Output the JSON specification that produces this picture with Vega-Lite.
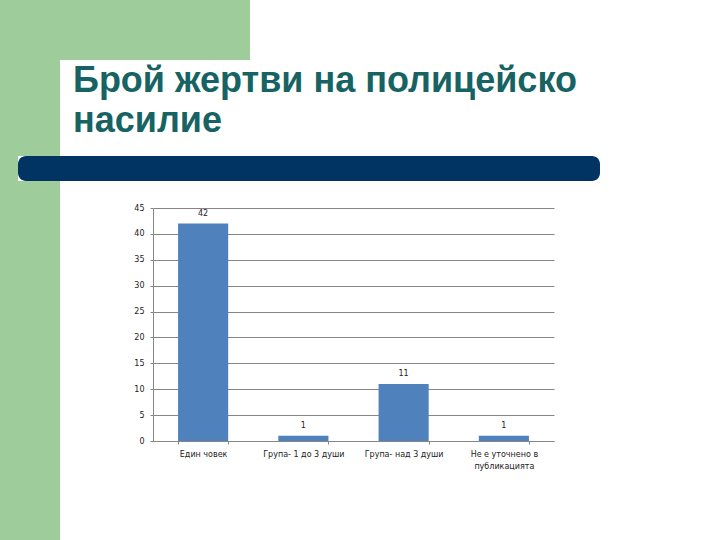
{
  "$schema": "https://vega.github.io/schema/vega-lite/v6.json",
  "background": "white",
  "padding": 0,
  "spacing": 0,
  "config": {
    "view": {"stroke": null},
    "concat": {"spacing": 0},
    "axis": {
      "labelFont": "DejaVu Sans",
      "labelFontSize": 8,
      "labelColor": "#222222",
      "domainColor": "#868686",
      "tickColor": "#868686",
      "gridColor": "#868686",
      "gridOpacity": 1,
      "tickSize": 3,
      "labelPadding": 6
    },
    "text": {"font": "DejaVu Sans"}
  },
  "vconcat": [
    {
      "width": 250, "height": 60,
      "data": {"values": []},
      "mark": "rect",
      "encoding": {},
      "view": {"fill": "#9fcc9b", "stroke": null}
    },
    {
      "spacing": 0,
      "hconcat": [
        {
          "width": 60, "height": 96,
          "data": {"values": []},
          "mark": "rect",
          "encoding": {},
          "view": {"fill": "#9fcc9b", "stroke": null}
        },
        {
          "width": 600, "height": 1,
          "data": {"values": []},
          "mark": "rect",
          "encoding": {},
          "view": {"fill": "white", "stroke": null},
          "title": {
            "text": ["Брой жертви на полицейско", "насилие"],
            "orient": "bottom",
            "anchor": "start",
            "frame": "group",
            "font": "Liberation Sans",
            "fontSize": 36,
            "fontWeight": "bold",
            "color": "#176363",
            "lineHeight": 40,
            "baseline": "top",
            "offset": 3,
            "dx": 13
          }
        }
      ]
    },
    {
      "spacing": 0,
      "hconcat": [
        {
          "width": 18, "height": 25,
          "data": {"values": []},
          "mark": "rect",
          "encoding": {},
          "view": {"fill": "#9fcc9b", "stroke": null}
        },
        {
          "width": 582, "height": 25,
          "data": {"values": []},
          "mark": "rect",
          "encoding": {},
          "view": {"fill": "#013463", "stroke": null, "cornerRadius": 8}
        }
      ]
    },
    {
      "spacing": 73,
      "hconcat": [
        {
          "width": 60, "height": 359,
          "data": {"values": []},
          "mark": "rect",
          "encoding": {},
          "view": {"fill": "#9fcc9b", "stroke": null}
        },
        {
          "spacing": 0,
          "vconcat": [
            {
              "width": 1, "height": 23,
              "data": {"values": []},
              "mark": "rect",
              "encoding": {},
              "view": {"fill": "white", "stroke": null}
            },
            {
              "width": 401,
              "height": 233,
              "data": {
                "values": [
                  {"category": "Един човек", "count": 42},
                  {"category": "Група- 1 до 3 души", "count": 1},
                  {"category": "Група- над 3 души", "count": 11},
                  {"category": "Не е уточнено в публикацията", "count": 1}
                ]
              },
              "encoding": {
                "x": {
                  "field": "category",
                  "type": "nominal",
                  "sort": null,
                  "scale": {"paddingInner": 0.5, "paddingOuter": 0.25},
                  "axis": {
                    "title": null,
                    "labelAngle": 0,
                    "tickBand": "extent",
                    "labelLineHeight": 12,
                    "labelExpr": "datum.label == 'Не е уточнено в публикацията' ? ['Не е уточнено в', 'публикацията'] : datum.label"
                  }
                },
                "y": {
                  "field": "count",
                  "type": "quantitative",
                  "scale": {"domain": [0, 45], "nice": false},
                  "axis": {
                    "title": null,
                    "values": [0, 5, 10, 15, 20, 25, 30, 35, 40, 45],
                    "grid": true
                  }
                }
              },
              "layer": [
                {"mark": {"type": "bar", "color": "#4f81bd"}},
                {
                  "mark": {"type": "text", "baseline": "bottom", "dy": -6, "fontSize": 8, "color": "#222222"},
                  "encoding": {"text": {"field": "count", "type": "quantitative"}}
                }
              ]
            }
          ]
        }
      ]
    }
  ]
}
